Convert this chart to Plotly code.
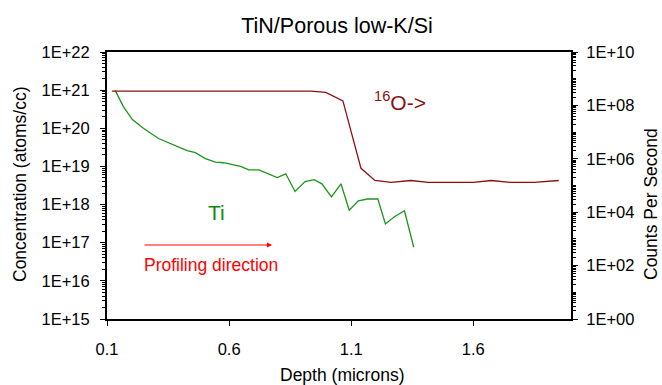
import plotly.graph_objects as go

# ---- data ----
ti_depth = [0.133, 0.167, 0.204, 0.249, 0.311, 0.386, 0.428, 0.462, 0.503, 0.544,
            0.578, 0.647, 0.681, 0.722, 0.797, 0.832, 0.870, 0.911, 0.948, 0.980,
            1.019, 1.058, 1.092, 1.129, 1.167, 1.209, 1.240, 1.277, 1.318, 1.356]
ti_conc = [1.0e21, 3.7e20, 1.7e20, 1.0e20, 5.4e19, 3.4e19, 2.6e19, 2.3e19, 1.6e19, 1.3e19,
           1.25e19, 1.0e19, 8.1e18, 8.1e18, 5.1e18, 6.4e18, 2.2e18, 4.0e18, 4.5e18, 3.5e18,
           1.6e18, 3.5e18, 7.1e17, 1.26e18, 1.4e18, 1.4e18, 3.1e17, 4.8e17, 6.9e17, 7.6e16]

o_depth = [0.12, 0.25, 0.40, 0.55, 0.70, 0.85, 0.934, 0.996, 1.066, 1.140,
           1.197, 1.263, 1.345, 1.415, 1.50, 1.60, 1.674, 1.756, 1.85, 1.95]
o_cps = [3.4e8, 3.4e8, 3.4e8, 3.4e8, 3.4e8, 3.4e8, 3.4e8, 3.05e8, 1.48e8, 4.4e5,
         1.54e5, 1.3e5, 1.54e5, 1.3e5, 1.3e5, 1.3e5, 1.54e5, 1.3e5, 1.3e5, 1.54e5]

x_ticks = [0.1, 0.6, 1.1, 1.6]
x_ticklabels = ["0.1", "0.6", "1.1", "1.6"]
left_exps = [15, 16, 17, 18, 19, 20, 21, 22]
right_exps = [0, 2, 4, 6, 8, 10]

FONT = "Arial, Liberation Sans, sans-serif"
TI_COLOR = "#1a961a"
O_COLOR = "#8b1010"

# plot-area geometry in pixels (used only to place text in paper coords)
L, R, T, B = 107, 571, 52, 319
W, H = R - L, B - T


def px(x):
    return (x - L) / W


def py(y):
    return (B - y) / H


fig = go.Figure()
fig.add_trace(go.Scatter(x=ti_depth, y=ti_conc, mode="lines",
                         line=dict(color=TI_COLOR, width=1.3), yaxis="y", showlegend=False))
fig.add_trace(go.Scatter(x=o_depth, y=o_cps, mode="lines",
                         line=dict(color=O_COLOR, width=1.3), yaxis="y2", showlegend=False))

axis_common = dict(showline=True, linecolor="black", linewidth=2, showgrid=False,
                   zeroline=False, ticks="outside", ticklen=5, tickcolor="black",
                   tickfont=dict(family=FONT, size=16.5, color="black"))

fig.update_layout(
    width=662, height=385,
    margin=dict(l=L, r=662 - R, t=T, b=385 - B),
    paper_bgcolor="white", plot_bgcolor="white",
    font=dict(family=FONT, color="black"),
    title=dict(text="TiN/Porous low-K/Si", x=337 / 662, y=1 - 25 / 385,
               xanchor="center", yanchor="middle",
               font=dict(family=FONT, size=21.5, color="black")),
    xaxis=dict(range=[0.1, 2.0], tickvals=x_ticks, ticktext=x_ticklabels,
               mirror=True, ticklabelstandoff=9, **axis_common),
    yaxis=dict(type="log", range=[15, 22],
               tickvals=[10.0 ** e for e in left_exps],
               ticktext=["1E+%02d" % e for e in left_exps],
               ticklabelstandoff=7,
               minor=dict(ticks="outside", ticklen=3, tickcolor="black", dtick="D1", showgrid=False),
               **axis_common),
    yaxis2=dict(type="log", range=[0, 10], overlaying="y", side="right",
                tickvals=[10.0 ** e for e in right_exps],
                ticktext=["1E+%02d" % e for e in right_exps],
                ticklabelstandoff=5,
                minor=dict(ticks="outside", ticklen=3, tickcolor="black", dtick="D1", showgrid=False),
                **axis_common),
)

annos = [
    dict(text="Depth (microns)", x=px(342), y=py(375), font=dict(size=17.5, color="black")),
    dict(text="Concentration (atoms/cc)", x=px(20), y=py(184), textangle=-90,
         font=dict(size=17.5, color="black")),
    dict(text="Counts Per Second", x=px(651), y=py(204), textangle=-90,
         font=dict(size=17.5, color="black")),
    dict(text="Ti", x=px(216), y=py(212), font=dict(size=21, color="#0a8a0a")),
    dict(text="<sup>16</sup>O->", x=px(399.5), y=py(101), font=dict(size=21, color=O_COLOR)),
    dict(text="Profiling direction", x=px(210.5), y=py(265), font=dict(size=17.5, color="#ff0000")),
]
for a in annos:
    fig.add_annotation(xref="paper", yref="paper", showarrow=False,
                       xanchor="center", yanchor="middle", **a)

fig.add_annotation(xref="x domain", yref="y domain", x=px(272), y=py(245),
                   ax=px(143), ay=py(245), axref="x domain", ayref="y domain",
                   text="", showarrow=True, arrowhead=2, arrowsize=1, arrowwidth=1,
                   arrowcolor="#ff0000")

fig.write_html("out.html")
